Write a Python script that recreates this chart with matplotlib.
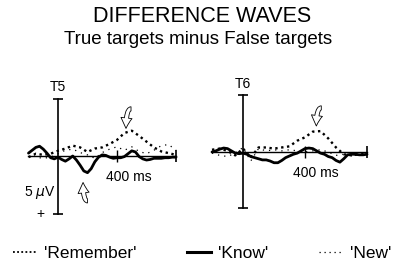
import numpy as np
import matplotlib
matplotlib.use("Agg")
import matplotlib.pyplot as plt
from matplotlib.lines import Line2D

plt.rcParams['font.family'] = ['Liberation Sans', 'DejaVu Sans']

# time axis (ms)
t_fine = np.arange(-200, 801, 25)
t_coarse = np.arange(-200, 801, 50)

# T5 (left) - amplitudes in microvolts, negative plotted up
t5_know = [-0.25, -0.5, -0.75, -0.85, -0.6, -0.25, 0.15, 0.25, 0.1, 0.3, 0.45,
           0.25, 0.0, 0.35, 0.8, 1.3, 1.45, 1.1, 0.5, 0.1, -0.1, -0.05, 0.1,
           0.2, 0.15, 0.15, 0.05, -0.2, -0.45, -0.35, 0.05, 0.25, 0.35, 0.3,
           0.2, 0.2, 0.2, 0.15, 0.15, 0.1, 0.1]
t5_remember = [0.1, -0.2, -0.1, -0.2, -0.45, -0.65, -0.9, -0.75, -0.35, -0.65,
               -0.75, -1.05, -1.4, -2.0, -2.2, -1.75, -1.25, -0.75, -0.4,
               -0.25, -0.1]
t5_new = [-0.3, 0.1, 0.2, 0.1, -0.2, -0.5, -0.6, -0.3, -0.1, 0.2, -0.3, -0.6,
          -0.8, -0.5, -0.8, -0.4, -0.2, -0.5, -0.9, -1.0, -0.5]

# T6 (right)
t6_know = [0.0, -0.1, -0.25, -0.35, -0.3, -0.1, 0.1, 0.15, 0.1, 0.2, 0.4, 0.5,
           0.6, 0.7, 0.7, 0.8, 0.95, 0.95, 0.75, 0.5, 0.35, 0.2, 0.1, -0.1,
           -0.3, -0.35, -0.3, -0.1, 0.1, 0.2, 0.4, 0.5, 0.75, 0.9, 0.6, 0.25,
           0.2, 0.2, 0.25, 0.25, 0.2]
t6_remember = [-0.2, -0.3, -0.1, 0.3, -0.3, 0.5, -0.4, -0.4, -0.3, -0.4, -0.5,
               -1.0, -1.3, -1.8, -1.85, -1.2, -0.4, 0.2, 0.3, 0.2, 0.1]
t6_new = [0.1, 0.3, 0.4, 0.1, -0.4, 0.8, -0.3, -0.1, -0.2, -0.1, -0.2, -0.1,
          0.0, -0.1, -0.2, 0.0, 0.3, 0.2, 0.3, 0.3, 0.2]

legend_labels = ["'Remember'", "'Know'", "'New'"]

fig = plt.figure(figsize=(3.96, 2.61), dpi=100)

ARROW = dict(arrowstyle="simple,head_width=0.8,head_length=0.75,tail_width=0.3",
             fc="white", ec="black", lw=0.6, shrinkA=0, shrinkB=0,
             connectionstyle="angle3,angleA=0,angleB=90")

def panel(rect, label, know, remember, new):
    ax = fig.add_axes(rect)
    ax.set_xlim(-250, 850)
    ax.set_ylim(6, -6)
    ax.axis("off")
    # axes
    ax.plot([-200, 800], [0, 0], color="black", lw=1.0)
    ax.plot([0, 0], [-5, 5], color="black", lw=1.2, marker="_", ms=7, mew=1.2)
    ax.plot([800], [0], color="black", marker="|", ms=9, mew=1.2)
    ax.plot([400], [0], color="black", marker="|", ms=8, mew=1.0)
    # waves
    ax.plot(t_coarse, new, color="black", lw=0.9, dashes=(1, 4))
    ax.plot(t_coarse, remember, color="black", lw=1.7, dashes=(1, 1.5))
    ax.plot(t_fine, know, color="black", lw=2.0, solid_capstyle="round")
    ax.text(0, -5.4, label, ha="center", va="bottom", fontsize=10)
    ax.text(325, 1.2, "400 ms", ha="left", va="top", fontsize=10)
    return ax

ax1 = panel([0.0533, 0.1379, 0.4098, 0.5287], "T5", t5_know, t5_remember, t5_new)
ax1.annotate("", xy=(461, -2.4), xytext=(495, -4.1), arrowprops=ARROW)
ax1.annotate("", xy=(170, 2.3), xytext=(200, 3.9), arrowprops=ARROW)
ax1.text(-15, 3.2, "5 $\\mu$V", ha="right", va="center", fontsize=10)
ax1.text(-120, 5.0, "+", ha="center", va="center", fontsize=10)

ax2 = panel([0.5158, 0.1579, 0.4306, 0.5195], "T6", t6_know, t6_remember, t6_new)
ax2.annotate("", xy=(473, -2.3), xytext=(505, -3.9), arrowprops=ARROW)

fig.text(0.51, 0.935, "DIFFERENCE WAVES", ha="center", va="center", fontsize=15.5)
fig.text(0.50, 0.850, "True targets minus False targets", ha="center", va="center", fontsize=13.5)

handles = [Line2D([], [], color="black", lw=1.3, dashes=(1, 1.3)),
           Line2D([], [], color="black", lw=2.2),
           Line2D([], [], color="black", lw=0.9, dashes=(1, 3))]
fig.legend(handles, legend_labels, loc="center",
           bbox_to_anchor=(0.51, 0.03), ncol=3, frameon=False, fontsize=12.5,
           handlelength=1.4, handletextpad=0.4, columnspacing=2.9)

fig.savefig("out.png", dpi=100)
